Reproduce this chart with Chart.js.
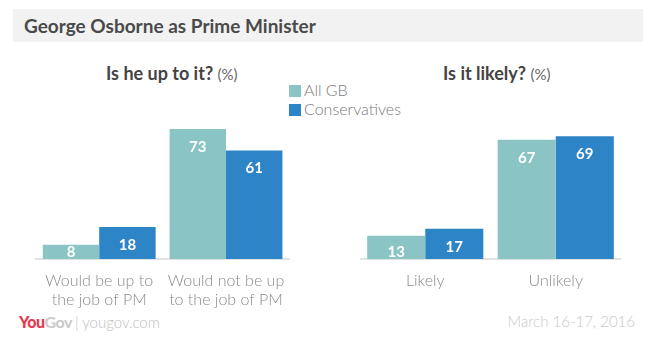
<!DOCTYPE html>
<html lang="en">
<head>
<meta charset="UTF-8">
<title>George Osborne as Prime Minister</title>
<script src="https://cdn.jsdelivr.net/npm/chart.js@4.4.1/dist/chart.umd.min.js"></script>
<style>
  body { margin: 0; width: 649px; height: 346px; position: relative; background: #fff; font-family: Lato, "Open Sans", sans-serif; overflow: hidden; }
  .band { position: absolute; left: 13px; top: 9px; width: 630px; height: 33px; background: #f2f2f2; }
  .band span { position: absolute; left: 11px; top: 5px; font-size: 19px; font-weight: bold; color: #4a4a4a; }
  .sub { position: absolute; top: 62px; font-size: 18px; font-weight: bold; color: #444; white-space: nowrap; }
  .sub small { font-size: 15px; font-weight: normal; color: #666; }
  .legend { position: absolute; left: 289px; top: 80px; font-size: 16px; color: #7a7a7a; font-weight: 300; }
  .legend div { height: 19px; line-height: 19px; white-space: nowrap; }
  .legend i { display: inline-block; width: 12px; height: 12px; margin-right: 3px; vertical-align: -1px; }
  .box { position: absolute; top: 81px; width: 261px; height: 230px; }
  .foot { position: absolute; top: 312px; font-size: 15px; }
  .logo { left: 19px; font-size: 16px; font-weight: bold; letter-spacing: -0.5px; }
  .logo b { color: #e8384f; }
  .logo em { font-style: normal; color: #c9c9c9; }
  .logo span { font-size: 15px; font-weight: 300; color: #c0c0c0; letter-spacing: 0; }
  .date { right: 14px; color: #c8c8c8; font-weight: 300; }
</style>
</head>
<body>
<div class="band"><span>George Osborne as Prime Minister</span></div>
<div class="sub" style="left:106px">Is he up to it? <small>(%)</small></div>
<div class="sub" style="left:443px">Is it likely? <small>(%)</small></div>
<div class="legend">
  <div><i style="background:#8bc4c5"></i>All GB</div>
  <div><i style="background:#2d84c7"></i>Conservatives</div>
</div>
<div class="box" style="left:35px"><canvas id="left"></canvas></div>
<div class="box" style="left:360px"><canvas id="right"></canvas></div>
<div class="foot logo"><b>You</b><em>Gov</em> <span>| yougov.com</span></div>
<div class="foot date">March 16-17, 2016</div>

<script>
const seriesNames = ['All GB', 'Conservatives'];
const colors = ['#8bc4c5', '#2d84c7'];

const upToItLabels = [['Would be up to', 'the job of PM'], ['Would not be up', 'to the job of PM']];
const upToItAllGB = [8, 73];
const upToItCons = [18, 61];

const likelyLabels = ['Likely', 'Unlikely'];
const likelyAllGB = [13, 67];
const likelyCons = [17, 69];

const valueLabels = {
  id: 'valueLabels',
  afterDatasetsDraw(chart) {
    const ctx = chart.ctx;
    const base = chart.scales.y.getPixelForValue(0);
    ctx.save();
    ctx.fillStyle = '#fff';
    ctx.font = 'bold 15px Lato, sans-serif';
    ctx.textAlign = 'center';
    ctx.textBaseline = 'middle';
    chart.data.datasets.forEach((ds, i) => {
      chart.getDatasetMeta(i).data.forEach((bar, j) => {
        const y = Math.min(bar.y + 18, base - 7);
        ctx.fillText(ds.data[j], bar.x, y);
      });
    });
    ctx.restore();
  }
};

function makeChart(id, labels, a, b) {
  new Chart(document.getElementById(id), {
    type: 'bar',
    data: {
      labels: labels,
      datasets: [
        { label: seriesNames[0], data: a, backgroundColor: colors[0] },
        { label: seriesNames[1], data: b, backgroundColor: colors[1] }
      ]
    },
    options: {
      responsive: true,
      maintainAspectRatio: false,
      animation: false,
      datasets: { bar: { categoryPercentage: 0.89, barPercentage: 1.0 } },
      layout: { padding: 0 },
      plugins: { legend: { display: false }, tooltip: { enabled: false } },
      scales: {
        y: { display: false, min: 0, max: 100 },
        x: {
          afterFit(axis) { axis.height = 52; },
          grid: { display: false, drawTicks: false },
          border: { display: true, color: '#e2e2e2', width: 2 },
          ticks: { color: '#8a8a8a', font: { family: 'Lato, sans-serif', size: 16, weight: 300 }, padding: 12 }
        }
      }
    },
    plugins: [valueLabels]
  });
}

makeChart('left', upToItLabels, upToItAllGB, upToItCons);
makeChart('right', likelyLabels, likelyAllGB, likelyCons);
</script>
</body>
</html>
